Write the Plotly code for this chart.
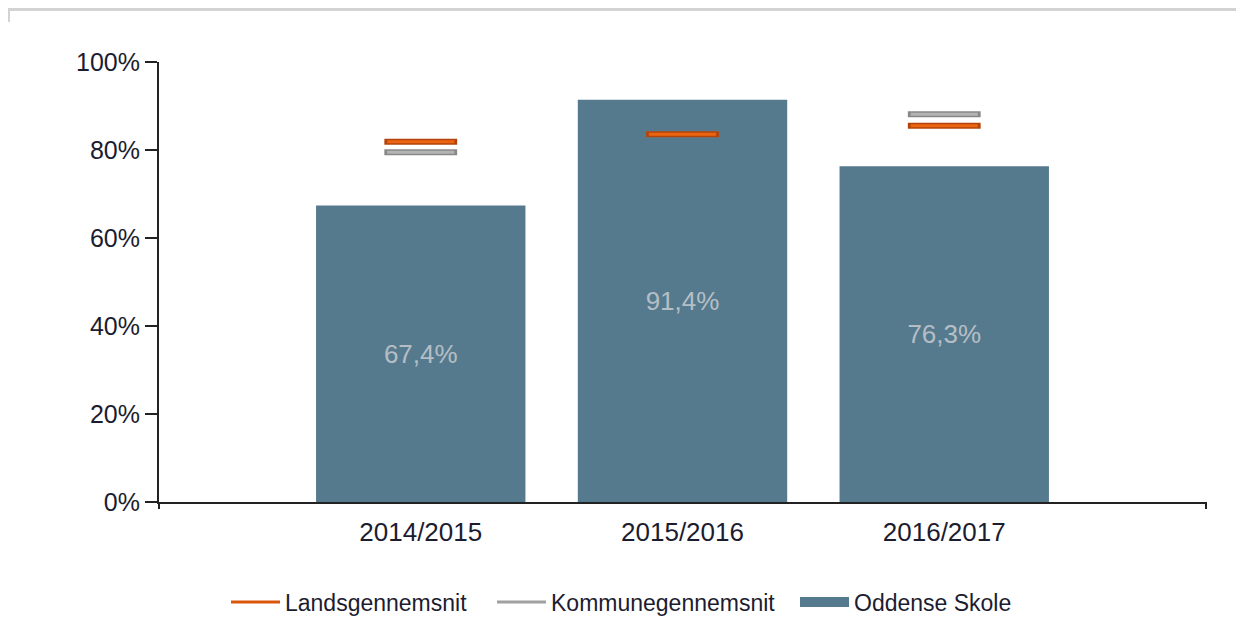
import plotly.graph_objects as go

categories = ["2014/2015", "2015/2016", "2016/2017"]
skole = [67.4, 91.4, 76.3]
lands = [81.9, 83.6, 85.5]
kommune = [79.5, 83.6, 88.1]
y_ticks = [0, 20, 40, 60, 80, 100]
y_tick_text = [f"{v}%" for v in y_ticks]

BAR = "#557a8d"
OR_FILL, OR_EDGE = "#ec6410", "#b2440b"
GR_FILL, GR_EDGE = "#b4b4b4", "#888888"
TXT = "#1c1c30"
FONT = "Liberation Sans, Arial, sans-serif"

# page is rendered with an 8px body margin; work in page pixels and convert
OFF = 8
W, H = 1244 - OFF, 628 - OFF
PL, PR, PT, PB = 159, 1206, 62, 502          # plot area in page pixels
L, T = PL - OFF, PT - OFF
R = W - (PR - OFF)
B = H - (PB - OFF)
pw, ph = PR - PL, PB - PT

def px_x(p):
    return (p - PL) / pw

def px_y(p):
    return (PB - p) / ph

fig = go.Figure()

fig.add_trace(go.Bar(
    x=categories, y=skole, name="Oddense Skole", marker_color=BAR,
    marker_line_width=0, width=0.8, showlegend=False,
    texttemplate="%{y:.1f}%", textposition="inside", insidetextanchor="middle",
    textangle=0, constraintext="none",
    textfont=dict(color="#b5bec5", size=26, family=FONT),
    hoverinfo="skip",
))

def marker_pair(vals, edge, fill):
    fig.add_trace(go.Scatter(
        x=categories, y=vals, mode="markers", showlegend=False, hoverinfo="skip",
        marker=dict(symbol="line-ew", size=52, line=dict(color=edge, width=6)),
    ))
    fig.add_trace(go.Scatter(
        x=categories, y=vals, mode="markers", showlegend=False, hoverinfo="skip",
        marker=dict(symbol="line-ew", size=48, line=dict(color=fill, width=3)),
    ))

marker_pair(kommune, GR_EDGE, GR_FILL)
marker_pair(lands, OR_EDGE, OR_FILL)

# legend entries, each in its own legend for exact placement
fig.add_trace(go.Scatter(x=[None], y=[None], mode="lines", name="Landsgennemsnit",
                         line=dict(color="#d9560c", width=3), legend="legend"))
fig.add_trace(go.Scatter(x=[None], y=[None], mode="lines", name="Kommunegennemsnit",
                         line=dict(color="#a0a0a0", width=3), legend="legend2"))
fig.add_trace(go.Scatter(x=[None], y=[None], mode="lines", name="Oddense Skole",
                         line=dict(color=BAR, width=19), legend="legend3"))

def leg(xpage):
    return dict(orientation="h", x=px_x(xpage), xanchor="left",
                y=px_y(602), yanchor="middle", font=dict(size=23, color=TXT, family=FONT),
                itemwidth=49, bgcolor="rgba(0,0,0,0)")

shapes = [
    dict(type="line", xref="paper", yref="paper", x0=0, x1=0, y0=0, y1=-7 / ph,
         line=dict(color="#222222", width=2)),
    dict(type="line", xref="paper", yref="paper", x0=1, x1=1, y0=0, y1=-7 / ph,
         line=dict(color="#222222", width=2)),
    dict(type="line", xref="paper", yref="paper", x0=px_x(7), x1=px_x(1260),
         y0=px_y(9.5), y1=px_y(9.5), line=dict(color="#d3d3d3", width=3)),
    dict(type="line", xref="paper", yref="paper", x0=px_x(8.5), x1=px_x(8.5),
         y0=px_y(8), y1=px_y(22), line=dict(color="#d3d3d3", width=3)),
]

fig.update_layout(
    width=W, height=H,
    margin=dict(l=L, r=R, t=T, b=B, autoexpand=False),
    paper_bgcolor="white", plot_bgcolor="white",
    separators=",.",
    font=dict(family=FONT, color=TXT, size=24),
    showlegend=True,
    legend=leg(226), legend2=leg(492), legend3=leg(795),
    shapes=shapes,
)

fig.update_xaxes(
    type="category", range=[-1, 3], showline=True, linecolor="#222222", linewidth=2,
    ticks="", showgrid=False, zeroline=False,
    tickfont=dict(size=26, color=TXT, family=FONT), ticklabelstandoff=6,
)
fig.update_yaxes(
    range=[0, 100], tickmode="array", tickvals=y_ticks, ticktext=y_tick_text,
    showline=True, linecolor="#222222", linewidth=2, ticks="outside", ticklen=12,
    tickwidth=2, tickcolor="#222222", showgrid=False, zeroline=False,
    tickfont=dict(size=25, color=TXT, family=FONT),
)

fig.write_html("out.html")
